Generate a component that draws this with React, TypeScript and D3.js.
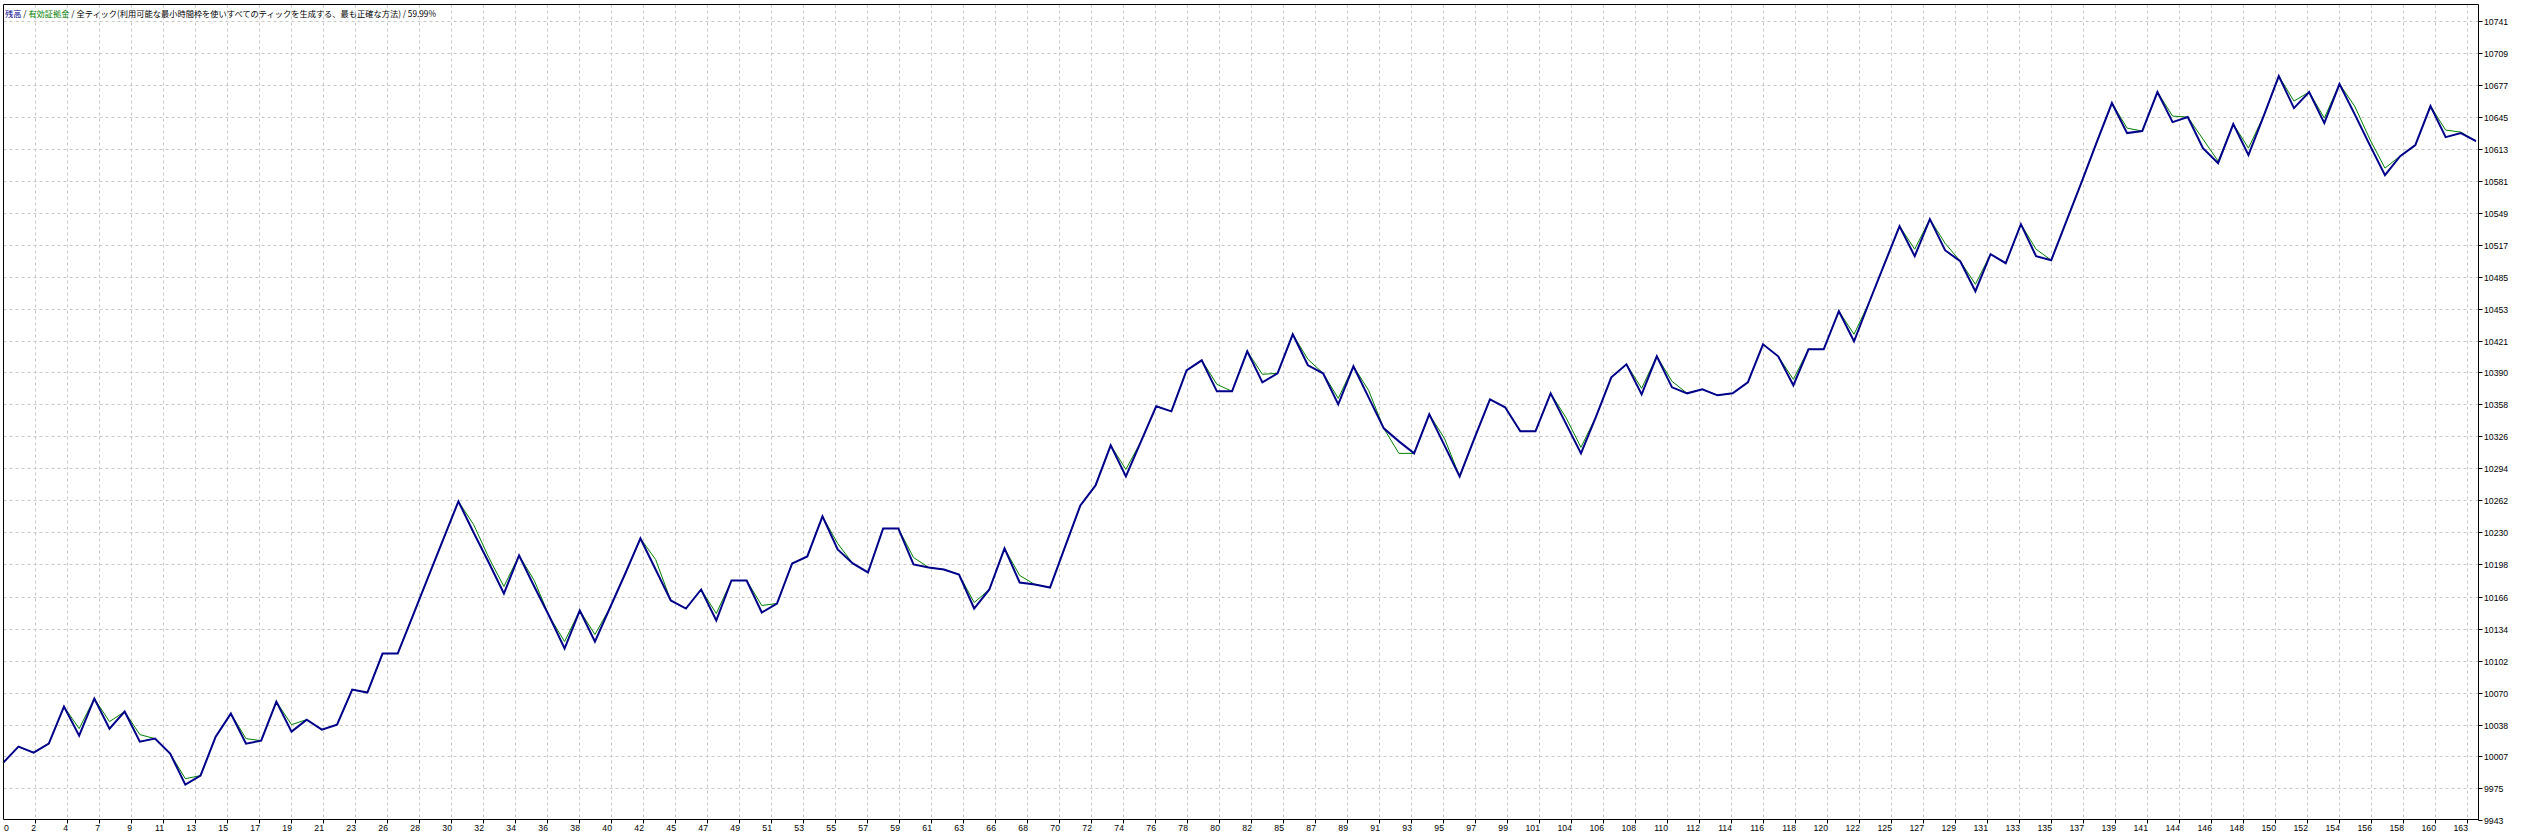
import React from "react";
import * as d3 from "d3";

const balance = [
  10000, 10016, 10010, 10019, 10056, 10027, 10064, 10034, 10051, 10021,
  10024, 10009, 9978, 9987, 10026, 10049, 10019, 10022, 10061, 10031,
  10043, 10033, 10038, 10073, 10070, 10109, 10109, 10147, 10185, 10223,
  10261, 10230, 10200, 10169, 10207, 10176, 10146, 10114, 10152, 10121,
  10155, 10189, 10224, 10193, 10162, 10154, 10173, 10142, 10182, 10182,
  10150, 10159, 10199, 10206, 10246, 10213, 10199, 10190, 10234, 10234,
  10198, 10195, 10193, 10188, 10154, 10173, 10214, 10180, 10178, 10175,
  10216, 10257, 10277, 10317, 10286, 10321, 10356, 10351, 10392, 10402,
  10371, 10371, 10411, 10380, 10389, 10428, 10397, 10389, 10358, 10396,
  10365, 10334, 10321, 10309, 10348, 10317, 10286, 10325, 10363, 10355,
  10331, 10331, 10369, 10339, 10309, 10346, 10385, 10398, 10368, 10406,
  10375, 10369, 10373, 10367, 10369, 10380, 10418, 10406, 10377, 10413,
  10413, 10451, 10421, 10460, 10498, 10536, 10506, 10543, 10512, 10501,
  10471, 10508, 10499, 10538, 10506, 10502, 10541, 10580, 10620, 10659,
  10629, 10631, 10670, 10640, 10645, 10614, 10599, 10638, 10607, 10646,
  10686, 10654, 10670, 10639, 10678, 10648, 10617, 10587, 10606, 10617,
  10656, 10625, 10629, 10621,
];

const equity = [
  10000, 10016, 10010, 10019, 10056, 10034, 10064, 10041, 10051, 10028,
  10024, 10009, 9984, 9987, 10026, 10049, 10024, 10022, 10061, 10038,
  10043, 10033, 10038, 10073, 10070, 10109, 10109, 10147, 10185, 10223,
  10261, 10238, 10205, 10176, 10207, 10182, 10146, 10121, 10152, 10128,
  10155, 10189, 10224, 10203, 10162, 10154, 10173, 10149, 10182, 10182,
  10157, 10159, 10199, 10206, 10246, 10219, 10199, 10190, 10234, 10234,
  10205, 10195, 10193, 10188, 10160, 10173, 10214, 10187, 10178, 10175,
  10216, 10257, 10277, 10317, 10293, 10321, 10356, 10351, 10392, 10402,
  10378, 10371, 10411, 10388, 10389, 10428, 10403, 10389, 10364, 10396,
  10372, 10334, 10309, 10309, 10348, 10324, 10286, 10325, 10363, 10355,
  10331, 10331, 10369, 10345, 10315, 10346, 10385, 10398, 10374, 10406,
  10381, 10369, 10373, 10367, 10369, 10380, 10418, 10406, 10383, 10413,
  10413, 10451, 10428, 10460, 10498, 10536, 10513, 10543, 10519, 10501,
  10478, 10508, 10499, 10538, 10513, 10502, 10541, 10580, 10620, 10659,
  10634, 10631, 10670, 10646, 10645, 10623, 10601, 10638, 10614, 10646,
  10686, 10661, 10670, 10644, 10678, 10656, 10623, 10594, 10606, 10617,
  10656, 10632, 10630, 10621,
];

const xTickLabels = [
  0, 2, 4, 7, 9, 11, 13, 15, 17, 19, 21, 23, 26, 28, 30, 32, 34, 36, 38, 40,
  42, 45, 47, 49, 51, 53, 55, 57, 59, 61, 63, 66, 68, 70, 72, 74, 76, 78, 80, 82,
  85, 87, 89, 91, 93, 95, 97, 99, 101, 104, 106, 108, 110, 112, 114, 116, 118, 120, 122, 125,
  127, 129, 131, 133, 135, 137, 139, 141, 144, 146, 148, 150, 152, 154, 156, 158, 160, 163,
];

const yTickLabels = [
  9943, 9975, 10007, 10038, 10070, 10102, 10134, 10166, 10198, 10230, 10262, 10294, 10326,
  10358, 10390, 10421, 10453, 10485, 10517, 10549, 10581, 10613, 10645, 10677, 10709, 10741,
];

const legendParts = [
  { text: "残高", color: "#00008b" },
  { text: " / ", color: "#000000" },
  { text: "有効証拠金", color: "#008000" },
  { text: " / 全ティック(利用可能な最小時間枠を使いすべてのティックを生成する、最も正確な方法) / 59.99%", color: "#000000" },
];

const W = 2523;
const H = 834;
const LEFT = 3.5;
const RIGHT = 2478.5;
const TOP = 4.5;
const BOTTOM = 819.5;

export default function App() {
  const x = d3.scaleLinear().domain([0, balance.length - 1]).range([3.3, 2476]);
  const y = d3.scaleLinear().domain([9943, 10741]).range([819.7, 21]);
  const gx = d3.scaleLinear().domain([0, xTickLabels.length - 1]).range([3, 2467]);

  const line = d3
    .line<number>()
    .x((_, i) => x(i))
    .y((d) => y(d));

  const font = "'Liberation Sans', Arial, sans-serif";

  return (
    <svg
      width={W}
      height={H}
      style={{ position: "absolute", left: 0, top: 0, background: "#fff" }}
    >
      <rect x={0} y={0} width={W} height={H} fill="#fff" />
      {/* horizontal grid */}
      {yTickLabels.slice(1).map((v) => {
        const yy = Math.round(y(v)) + 0.5;
        return (
          <line
            key={"hg" + v}
            x1={LEFT}
            x2={RIGHT}
            y1={yy}
            y2={yy}
            stroke="#c8c8c8"
            strokeDasharray="3,3"
          />
        );
      })}
      {/* vertical grid */}
      {xTickLabels.slice(1).map((_, k) => {
        const xx = Math.round(gx(k + 1)) + 0.5;
        return (
          <line
            key={"vg" + k}
            x1={xx}
            x2={xx}
            y1={TOP}
            y2={BOTTOM}
            stroke="#c8c8c8"
            strokeDasharray="3,3"
          />
        );
      })}
      {/* equity */}
      <path d={line(equity) || ""} fill="none" stroke="#008000" strokeWidth={1} />
      {/* balance */}
      <path
        d={line(balance) || ""}
        fill="none"
        stroke="#00008b"
        strokeWidth={2}
        strokeLinejoin="miter"
      />
      {/* frame */}
      <line x1={LEFT} x2={LEFT} y1={TOP} y2={BOTTOM} stroke="#000" />
      <line x1={LEFT} x2={RIGHT} y1={TOP} y2={TOP} stroke="#000" />
      <line x1={RIGHT} x2={RIGHT} y1={TOP} y2={BOTTOM + 1} stroke="#000" />
      <line x1={LEFT} x2={RIGHT} y1={BOTTOM} y2={BOTTOM} stroke="#000" />
      {/* y axis ticks + labels */}
      {yTickLabels.map((v) => {
        const yy = Math.round(y(v)) + 0.5;
        return (
          <g key={"yt" + v}>
            <line x1={RIGHT} x2={RIGHT + 4} y1={yy} y2={yy} stroke="#000" />
            <text
              x={2484}
              y={yy + 3.2}
              fontFamily={font}
              fontSize={8.7}
              fill="#000"
            >
              {v}
            </text>
          </g>
        );
      })}
      {/* x axis ticks + labels */}
      {xTickLabels.map((lab, k) => {
        const xx = Math.round(gx(k)) + 0.5;
        return (
          <g key={"xt" + k}>
            {k > 0 && (
              <line x1={xx} x2={xx} y1={BOTTOM} y2={BOTTOM + 4} stroke="#000" />
            )}
            <text
              x={k === 0 ? 4 : xx + 0.5}
              y={830.5}
              fontFamily={font}
              fontSize={8.7}
              textAnchor={k === 0 ? "start" : "end"}
              fill="#000"
            >
              {lab}
            </text>
          </g>
        );
      })}
      {/* legend */}
      <text
        x={5}
        y={16.5}
        fontFamily="'Noto Sans CJK JP', sans-serif"
        fontSize={8.5}
        textLength={431}
        lengthAdjust="spacingAndGlyphs"
      >
        {legendParts.map((p, i) => (
          <tspan key={i} fill={p.color}>
            {p.text}
          </tspan>
        ))}
      </text>
    </svg>
  );
}
